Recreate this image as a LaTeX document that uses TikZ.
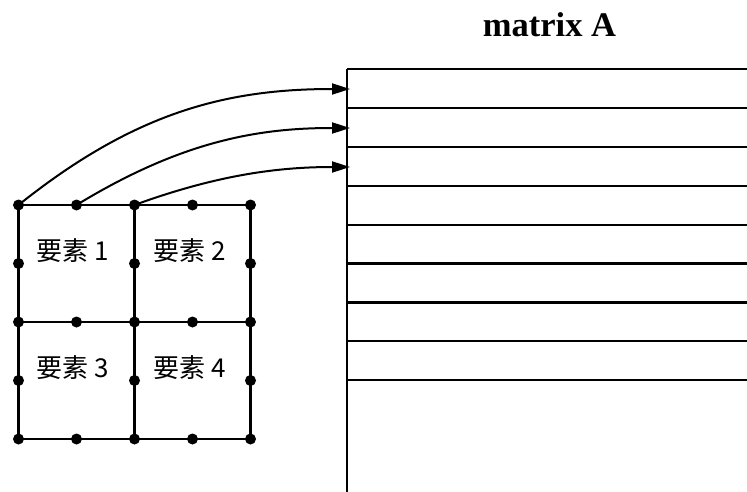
\documentclass[tikz,border=0pt]{standalone}
\usepackage{fontspec}
\setmainfont{Liberation Serif}
\newfontfamily\cjkfont{Noto Sans CJK SC}
\usetikzlibrary{arrows.meta,calc}
\begin{document}
\begin{tikzpicture}[x=1pt,y=-1pt,
  gridline/.style={line width=2.2pt},
  rowline/.style={line width=2.2pt},
  dot/.style={circle,fill=black,inner sep=0pt,minimum size=11pt},
  link/.style={line width=2pt,-{Triangle[length=18pt,width=11pt]}},
  elem/.style={font=\cjkfont\fontsize{26}{26}\selectfont,inner sep=0pt},
  title/.style={font=\bfseries\fontsize{34.5}{34.5}\selectfont,inner sep=0pt}]
\useasboundingbox (0,0) rectangle (747,492);

% mesh points: columns i, rows j
\foreach \i in {0,...,4}
  \foreach \j in {0,...,4}
    \coordinate (p\i\j) at ({18.5+58*\i},{205+58.5*\j});

% element edges
\foreach \j in {0,2,4}
  \draw[gridline] (p0\j) -- (p4\j);
\foreach \i in {0,4}
  \draw[gridline] (p\i0) -- (p\i4);
\draw[gridline,line width=3pt] (p20) -- (p24);

% nodes on element edges and corners
\foreach \i/\j in {0/0,1/0,2/0,3/0,4/0,
                   0/1,2/1,4/1,
                   0/2,1/2,2/2,3/2,4/2,
                   0/3,2/3,4/3,
                   0/4,1/4,2/4,3/4,4/4}
  \node[dot] (d\i\j) at (p\i\j) {};

% element labels
\node[elem] (e1) at (73,251) {要素 1};
\node[elem] (e2) at (190,251) {要素 2};
\node[elem] (e3) at (73,368) {要素 3};
\node[elem] (e4) at (190,368) {要素 4};

% matrix A: left border and rows
\node[title,anchor=base] (ttl) at (549.5,37) {matrix A};
\coordinate (mb) at (347,492);
\foreach \k in {0,...,8} {
  \coordinate (m\k) at (347,{69+38.9*\k});
  \coordinate (r\k) at (747,{69+38.9*\k});
  \draw[rowline] (m\k) -- (r\k);
}
\draw[rowline] (m0) -- (mb);

% arrow targets on the first three rows
\coordinate (a1) at (350,89);
\coordinate (a2) at (350,128);
\coordinate (a3) at (350,167);

\draw[link] (p00) .. controls ($(p00)+(115,-92)$) and ($(a1)+(-125,0)$) .. (a1);
\draw[link] (p10) .. controls ($(p10)+(105,-64)$) and ($(a2)+(-92,0)$) .. (a2);
\draw[link] (p20) .. controls ($(p20)+(85,-31)$) and ($(a3)+(-69,0)$) .. (a3);
\end{tikzpicture}
\end{document}
